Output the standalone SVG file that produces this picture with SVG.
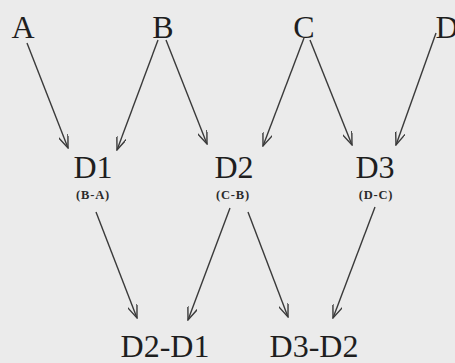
<svg xmlns="http://www.w3.org/2000/svg" width="455" height="363" viewBox="0 0 455 363">
<style>
.lbl{font-family:"Liberation Serif","Times New Roman",serif;font-size:32px;fill:#1e1e1e;text-anchor:middle}
.sub{font-family:"Liberation Serif","Times New Roman",serif;font-size:12.5px;font-weight:bold;letter-spacing:0.8px;fill:#2a2a2a;text-anchor:middle}
.edge{stroke:#3a3a3a;stroke-width:1.4;fill:none;marker-end:url(#v)}
</style>
<defs>
<marker id="v" viewBox="0 0 14 10" refX="13" refY="5" markerWidth="14" markerHeight="10" markerUnits="userSpaceOnUse" orient="auto">
<path d="M0,0 L13,5 L0,10" fill="none" stroke="#3a3a3a" stroke-width="1.4"/>
</marker>
</defs>
<rect width="455" height="363" fill="#ebebeb"/>
<g id="nA"><text class="lbl" x="23" y="38">A</text></g>
<g id="nB"><text class="lbl" x="163" y="38">B</text></g>
<g id="nC"><text class="lbl" x="304" y="38">C</text></g>
<g id="nD"><text class="lbl" x="447" y="38">D</text></g>
<g id="nD1"><text class="lbl" x="93" y="178">D1</text><text class="sub" x="93" y="199">(B-A)</text></g>
<g id="nD2"><text class="lbl" x="234" y="178">D2</text><text class="sub" x="233" y="199">(C-B)</text></g>
<g id="nD3"><text class="lbl" x="375" y="178">D3</text><text class="sub" x="376" y="199">(D-C)</text></g>
<g id="nD2D1"><text class="lbl" x="165" y="357">D2-D1</text></g>
<g id="nD3D2"><text class="lbl" x="314" y="357">D3-D2</text></g>
<g id="edges">
<line class="edge" x1="27" y1="43" x2="68" y2="148"/>
<line class="edge" x1="158" y1="40" x2="117" y2="150"/>
<line class="edge" x1="166" y1="40" x2="207" y2="144"/>
<line class="edge" x1="304" y1="38" x2="263" y2="146"/>
<line class="edge" x1="310" y1="40" x2="352" y2="145"/>
<line class="edge" x1="436" y1="33" x2="396" y2="145"/>
<line class="edge" x1="96" y1="212" x2="137" y2="318"/>
<line class="edge" x1="230" y1="208" x2="188" y2="320"/>
<line class="edge" x1="248" y1="212" x2="288" y2="317"/>
<line class="edge" x1="375" y1="207" x2="333" y2="318"/>
</g>
</svg>
